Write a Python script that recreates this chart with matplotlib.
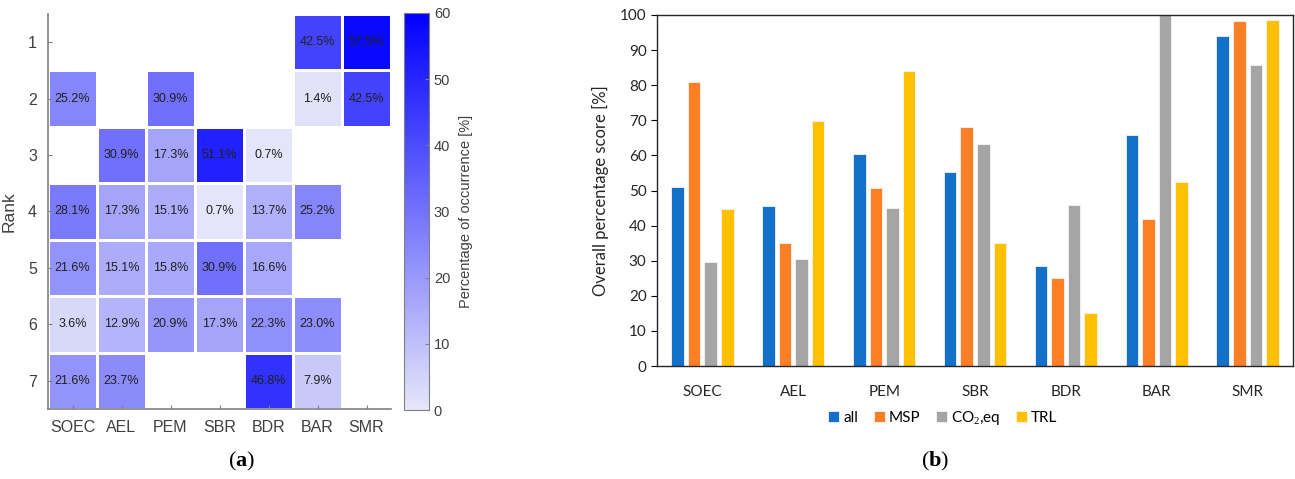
import numpy as np
import matplotlib
matplotlib.use("Agg")
import matplotlib.pyplot as plt
from matplotlib.colors import LinearSegmentedColormap

plt.rcParams["mathtext.fontset"] = "custom"
plt.rcParams["mathtext.rm"] = "Liberation Serif"
plt.rcParams["mathtext.bf"] = "Liberation Serif:bold"

# ---- (a) rank occurrence heatmap ----
techs = ["SOEC", "AEL", "PEM", "SBR", "BDR", "BAR", "SMR"]
ranks = [1, 2, 3, 4, 5, 6, 7]
nan = np.nan
occurrence = np.array([
    [nan, nan, nan, nan, nan, 42.5, 57.5],
    [25.2, nan, 30.9, nan, nan, 1.4, 42.5],
    [nan, 30.9, 17.3, 51.1, 0.7, nan, nan],
    [28.1, 17.3, 15.1, 0.7, 13.7, 25.2, nan],
    [21.6, 15.1, 15.8, 30.9, 16.6, nan, nan],
    [3.6, 12.9, 20.9, 17.3, 22.3, 23.0, nan],
    [21.6, 23.7, nan, nan, 46.8, 7.9, nan],
])

# ---- (b) overall percentage score ----
score_labels = ["all", "MSP", "CO$_2$,eq", "TRL"]
score_all = [51.0, 45.5, 60.3, 55.2, 28.4, 65.8, 94.0]
score_msp = [81.0, 35.0, 50.6, 68.0, 25.2, 41.8, 98.4]
score_co2 = [29.5, 30.5, 45.0, 63.2, 46.0, 100.0, 85.8]
score_trl = [44.8, 69.8, 84.0, 35.0, 15.2, 52.4, 98.7]
score_colors = ["#1470C8", "#FF7F27", "#A5A5A5", "#FFC000"]

W, H = 1295, 479
fig = plt.figure(figsize=(W / 100, H / 100), dpi=100)


def box(x0, y0, x1, y1):
    # pixel box (top-left origin) -> figure fraction rect
    return [x0 / W, 1 - y1 / H, (x1 - x0) / W, (y1 - y0) / H]


grey = "#404040"
cmap = LinearSegmentedColormap.from_list("occ", [(0.9, 0.9, 0.98), (0.0, 0.0, 1.0)])

ax1 = fig.add_axes(box(48, 14, 391, 409))
mesh = ax1.pcolormesh(np.arange(8) + 0.5, np.arange(8) + 0.5, np.ma.masked_invalid(occurrence),
                      cmap=cmap, vmin=0, vmax=60, edgecolors="white", linewidth=2)
for r in range(len(ranks)):
    for c in range(len(techs)):
        v = occurrence[r, c]
        if not np.isnan(v):
            ax1.text(c + 1, r + 1, f"{v:.1f}%", ha="center", va="center",
                     fontsize=9, color="#202020", family="Liberation Sans")
ax1.set_xlim(0.5, 7.5)
ax1.set_ylim(7.5, 0.5)
ax1.set_xticks(range(1, 8))
ax1.set_xticklabels(techs)
ax1.set_yticks(ranks)
ax1.set_ylabel("Rank", fontsize=12.5, color=grey, family="Liberation Sans", labelpad=8)
ax1.tick_params(direction="in", length=3, color="#808080", labelcolor=grey, labelsize=11.5, pad=8)
for lab in ax1.get_xticklabels() + ax1.get_yticklabels():
    lab.set_family("Liberation Sans")
for s in ["top", "right"]:
    ax1.spines[s].set_visible(False)
for s in ["left", "bottom"]:
    ax1.spines[s].set_color("#808080")
    ax1.spines[s].set_linewidth(1.2)

cax = fig.add_axes(box(404, 13, 429, 410))
cb = fig.colorbar(mesh, cax=cax, ticks=range(0, 61, 10))
cb.outline.set_edgecolor("#808080")
cax.tick_params(direction="in", length=3, color="#808080", labelcolor=grey, labelsize=10.5)
for lab in cax.get_yticklabels():
    lab.set_family("Liberation Sans")
cb.set_label("Percentage of occurrence [%]", fontsize=10.5, color=grey, family="Liberation Sans", labelpad=6)

fig.text(242 / W, 1 - 461 / H, "($\\mathbf{a}$)", ha="center", va="center",
         fontsize=16, family="Liberation Serif")

# ---- bars ----
ax2 = fig.add_axes(box(657, 15, 1293, 366))
x = np.arange(len(techs))
pitch = 0.182
width = 0.138
series = [score_all, score_msp, score_co2, score_trl]
for i, (vals, lab, col) in enumerate(zip(series, score_labels, score_colors)):
    ax2.bar(x + (i - 1.5) * pitch, vals, width, color=col, label=lab,
            edgecolor="#f4f4f4", linewidth=0.6)
ax2.set_xlim(-0.5, 6.5)
ax2.set_ylim(0, 100)
ax2.set_yticks(range(0, 101, 10))
ax2.set_xticks(x)
ax2.set_xticklabels(techs)
ax2.tick_params(axis="x", length=0, pad=14)
ax2.tick_params(axis="y", direction="out", length=4, width=0.8)
ax2.tick_params(labelsize=11, labelcolor="#262626")
for lab in ax2.get_xticklabels() + ax2.get_yticklabels():
    lab.set_family("Lato")
for s in ax2.spines.values():
    s.set_color("#262626")
    s.set_linewidth(1.0)
ax2.set_ylabel("Overall percentage score [%]", fontsize=12, family="Lato", color="#262626", labelpad=8)

fig.legend(*ax2.get_legend_handles_labels(), loc="center", bbox_to_anchor=(943 / W, 1 - 418 / H),
           ncol=4, frameon=False, prop={"family": "Lato", "size": 11},
           handlelength=0.7, handleheight=0.7, handletextpad=0.3, columnspacing=1.0)

fig.text(935 / W, 1 - 461 / H, "($\\mathbf{b}$)", ha="center", va="center",
         fontsize=16, family="Liberation Serif")

fig.savefig("out.png", dpi=100)
